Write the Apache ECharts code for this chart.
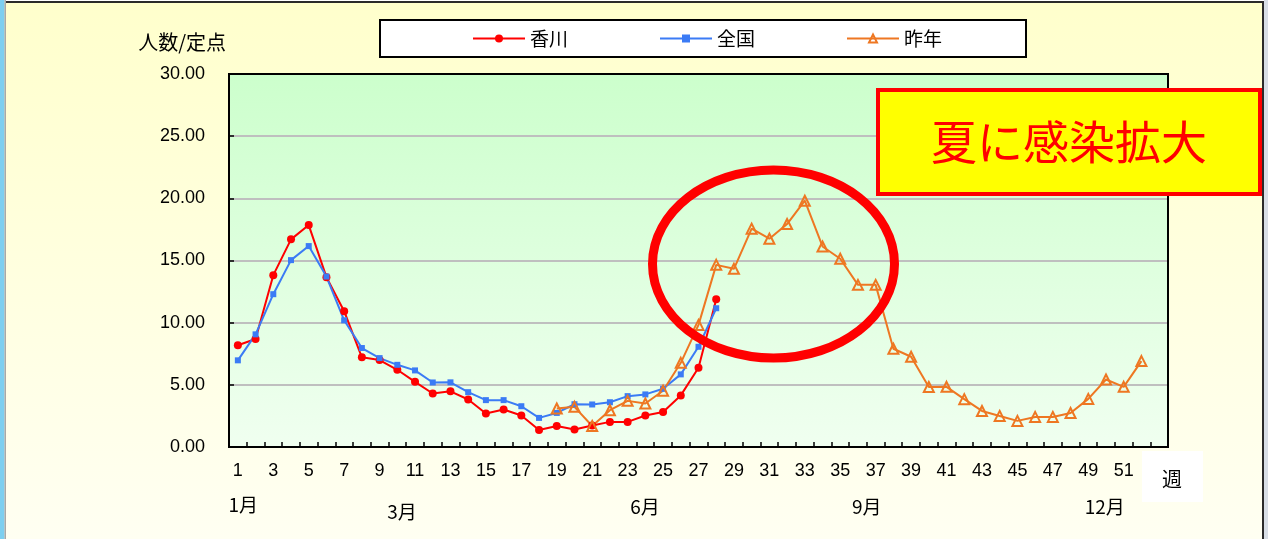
<!DOCTYPE html>
<html>
<head>
<meta charset="utf-8">
<script src="https://cdn.jsdelivr.net/npm/echarts@6/dist/echarts.min.js"></script>
<style>
html,body{margin:0;padding:0;background:#fff;}
#c{width:1268px;height:539px;}
</style>
</head>
<body>
<div id="c"></div>
<script>
// ---- data ----
const weeks = ['1','2','3','4','5','6','7','8','9','10','11','12','13','14','15','16','17','18','19','20',
  '21','22','23','24','25','26','27','28','29','30','31','32','33','34','35','36','37','38','39','40',
  '41','42','43','44','45','46','47','48','49','50','51','52','53'];
const kagawa = [8.18, 8.69, 13.82, 16.70, 17.85, 13.66, 10.92, 7.21, 6.99, 6.21, 5.24, 4.30, 4.48, 3.82,
  2.69, 3.02, 2.53, 1.37, 1.69, 1.40, 1.73, 2.02, 2.02, 2.53, 2.82, 4.15, 6.37, 11.89];
const zenkoku = [6.97, 9.06, 12.29, 15.03, 16.16, 13.71, 10.19, 7.96, 7.15, 6.61, 6.16, 5.19, 5.20, 4.41,
  3.77, 3.77, 3.28, 2.34, 2.74, 3.44, 3.42, 3.60, 4.09, 4.23, 4.68, 5.84, 8.06, 11.16];
const sakunen = [null, null, null, null, null, null, null, null, null, null, null, null, null, null, null, null, null, null,
  3.10, 3.23, 1.69, 2.96, 3.71, 3.50, 4.52, 6.77, 9.82, 14.65, 14.33, 17.56, 16.75, 17.93, 19.81, 16.13,
  15.14, 13.04, 13.04, 7.90, 7.26, 4.82, 4.84, 3.85, 2.90, 2.50, 2.10, 2.42, 2.42, 2.74, 3.87, 5.43, 4.84, 6.91];
const seriesNames = ['香川', '全国', '昨年'];
const monthLabels = ['1月', '3月', '6月', '9月', '12月'];
const monthAtWeek = [1.3, 10.26, 23.98, 36.5, 49.93];
const yAxisName = '人数/定点';
const xAxisName = '週';
const noteText = '夏に感染拡大';

// ---- layout ----
const G = {left: 229, top: 74, width: 939, height: 373};
const monthY = [505, 512, 507, 507, 507];
const CJK = '"Noto Sans CJK JP", "Noto Sans", sans-serif';
const NUM = '"Liberation Sans", Arial, sans-serif';

const chart = echarts.init(document.getElementById('c'), null, {renderer: 'canvas'});

const monthGraphics = monthLabels.map((t, i) => ({
  type: 'text',
  x: G.left + (monthAtWeek[i] - 0.5) * G.width / weeks.length,
  y: monthY[i],
  style: {text: t, fill: '#000', font: '19px ' + CJK, align: 'center', verticalAlign: 'middle'},
  z: 10
}));

const option = {
  animation: false,
  backgroundColor: {
    type: 'linear', x: 0, y: 0, x2: 0, y2: 1,
    colorStops: [{offset: 0, color: '#FFFFCC'}, {offset: 1, color: '#FFFFF2'}]
  },
  textStyle: {fontFamily: CJK, color: '#000'},
  grid: {
    left: G.left, top: G.top, width: G.width, height: G.height,
    containLabel: false, outerBoundsMode: 'none',
    show: true,
    borderColor: '#000', borderWidth: 2,
    backgroundColor: {
      type: 'linear', x: 0, y: 0, x2: 0, y2: 1,
      colorStops: [{offset: 0, color: '#CCFFCC'}, {offset: 1, color: '#F0FFF0'}]
    }
  },
  legend: {
    show: true,
    left: 380, top: 20,
    orient: 'horizontal',
    padding: [9, 84, 9, 92],
    itemWidth: 52, itemHeight: 10, itemGap: 91,
    backgroundColor: '#fff', borderColor: '#000', borderWidth: 2, borderRadius: 0,
    textStyle: {fontSize: 19, fontFamily: CJK, color: '#000'},
    data: seriesNames
  },
  xAxis: {
    type: 'category',
    data: weeks,
    boundaryGap: true,
    axisLine: {show: true, lineStyle: {color: '#000', width: 2}},
    axisTick: {show: true, inside: true, length: 5, interval: 0, alignWithLabel: false, lineStyle: {color: '#000', width: 1.5}},
    axisLabel: {
      interval: (idx, val) => idx % 2 === 0 && idx < 52,
      margin: 15, fontSize: 18, fontFamily: NUM, color: '#000', hideOverlap: false
    },
    splitLine: {show: false}
  },
  yAxis: {
    type: 'value',
    min: 0, max: 30, interval: 5,
    name: yAxisName,
    nameLocation: 'end',
    nameGap: 32,
    nameTextStyle: {fontSize: 20, fontFamily: CJK, color: '#000', align: 'right', verticalAlign: 'middle', padding: [0, 3, 0, 0]},
    axisLine: {show: true, lineStyle: {color: '#000', width: 2}},
    axisTick: {show: true, inside: true, length: 5, lineStyle: {color: '#000', width: 1.5}},
    axisLabel: {formatter: v => v.toFixed(2), margin: 24, fontSize: 18, fontFamily: NUM, color: '#000'},
    splitLine: {show: true, showMinLine: false, showMaxLine: false, lineStyle: {color: '#BFBFBF', width: 2}}
  },
  series: [
    {
      name: seriesNames[0], type: 'line', data: kagawa,
      symbol: 'circle', symbolSize: 8,
      lineStyle: {color: '#FF0000', width: 2},
      itemStyle: {color: '#FF0000'},
      emphasis: {disabled: true}
    },
    {
      name: seriesNames[1], type: 'line', data: zenkoku,
      symbol: 'rect', symbolSize: 6,
      lineStyle: {color: '#3B7BF5', width: 2},
      itemStyle: {color: '#3B7BF5'},
      emphasis: {disabled: true}
    },
    {
      name: seriesNames[2], type: 'line', data: sakunen,
      symbol: 'triangle', symbolSize: 10,
      lineStyle: {color: '#EE7722', width: 2},
      itemStyle: {color: 'rgba(255,255,255,0)', borderColor: '#EE7722', borderWidth: 2},
      emphasis: {disabled: true}
    }
  ],
  graphic: [
    {type: 'rect', shape: {x: 0, y: 0, width: 1268, height: 1}, style: {fill: '#fff'}, z: 1},
    {type: 'rect', shape: {x: 5, y: 1, width: 1259, height: 2}, style: {fill: '#2a2a2a'}, z: 1},
    {type: 'rect', shape: {x: 0, y: 0, width: 4.5, height: 539}, style: {fill: '#7DCFF0'}, z: 1},
    {type: 'rect', shape: {x: 4.5, y: 0, width: 1.5, height: 539}, style: {fill: '#A8A8A8'}, z: 1},
    {type: 'rect', shape: {x: 1262, y: 1, width: 2, height: 538}, style: {fill: '#2a2a2a'}, z: 1},
    {type: 'rect', shape: {x: 1264, y: 0, width: 4, height: 539}, style: {fill: '#D8DEE6'}, z: 1},
    // plot frame top/right (drawn above gridlines)
    {type: 'polyline', shape: {points: [[G.left, G.top], [G.left + G.width, G.top], [G.left + G.width, G.top + G.height]]}, style: {stroke: '#000', lineWidth: 2, fill: 'none'}, z: 4},
    // x-axis unit box
    {type: 'rect', shape: {x: 1142, y: 451, width: 61, height: 51}, style: {fill: '#FFFFFF'}, z: 5},
    {type: 'text', x: 1172, y: 479, style: {text: xAxisName, fill: '#000', font: '20px ' + CJK, align: 'center', verticalAlign: 'middle'}, z: 6},
    // highlight ellipse
    {type: 'ellipse', shape: {cx: 773.5, cy: 264, rx: 121, ry: 94}, style: {fill: 'none', stroke: '#FF0000', lineWidth: 9}, z: 20},
    // note box
    {type: 'rect', shape: {x: 878, y: 90, width: 382, height: 104}, style: {fill: '#FFFF00', stroke: '#FF0000', lineWidth: 4}, z: 20},
    {type: 'text', x: 1069, y: 142, style: {text: noteText, fill: '#FF0000', font: '46px ' + CJK, align: 'center', verticalAlign: 'middle'}, z: 21}
  ].concat(monthGraphics)
};

chart.setOption(option);
</script>
</body>
</html>
